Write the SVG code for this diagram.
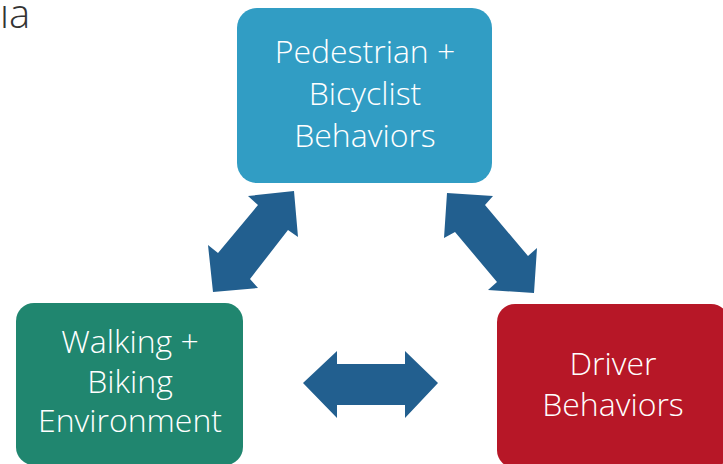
<svg xmlns="http://www.w3.org/2000/svg" width="723" height="464" viewBox="0 0 723 464">
<style>
.lbl{font-family:"Open Sans","Liberation Sans",sans-serif;font-weight:300;font-size:32px;fill:#ffffff;text-anchor:middle}
.arr{fill:#225F8F}
</style>
<rect width="723" height="464" fill="#ffffff"/>
<text x="0" y="28" font-family="Open Sans, Liberation Sans, sans-serif" font-weight="300" font-size="40" fill="#333333">ıa</text>
<g id="connectors">
<polygon class="arr" points="294,191 298,237 288,230 250,279 258,288 213,292 208,245 218,253 258,205 248,196"/>
<polygon class="arr" points="447,193 493,196 485,205 528,256 537,248 534,293 488,290 497,282 455,232 444,238"/>
<polygon class="arr" points="303,383 337,351 337,364 405,364 405,351 438,383 405,418 405,405 337,405 337,418"/>
</g>
<g id="ped">
<rect x="237" y="8" width="255" height="175" rx="20" fill="#319DC4"/>
<text class="lbl" x="365" y="63">Pedestrian +</text>
<text class="lbl" x="365" y="105">Bicyclist</text>
<text class="lbl" x="365" y="147">Behaviors</text>
</g>
<g id="env">
<rect x="16" y="303" width="227" height="162" rx="18" fill="#20866F"/>
<text class="lbl" x="130" y="353">Walking +</text>
<text class="lbl" x="130" y="393">Biking</text>
<text class="lbl" x="130" y="432">Environment</text>
</g>
<g id="driver">
<rect x="497" y="304" width="232" height="164" rx="18" fill="#B71727"/>
<text class="lbl" x="613" y="375">Driver</text>
<text class="lbl" x="613" y="416">Behaviors</text>
</g>
</svg>
